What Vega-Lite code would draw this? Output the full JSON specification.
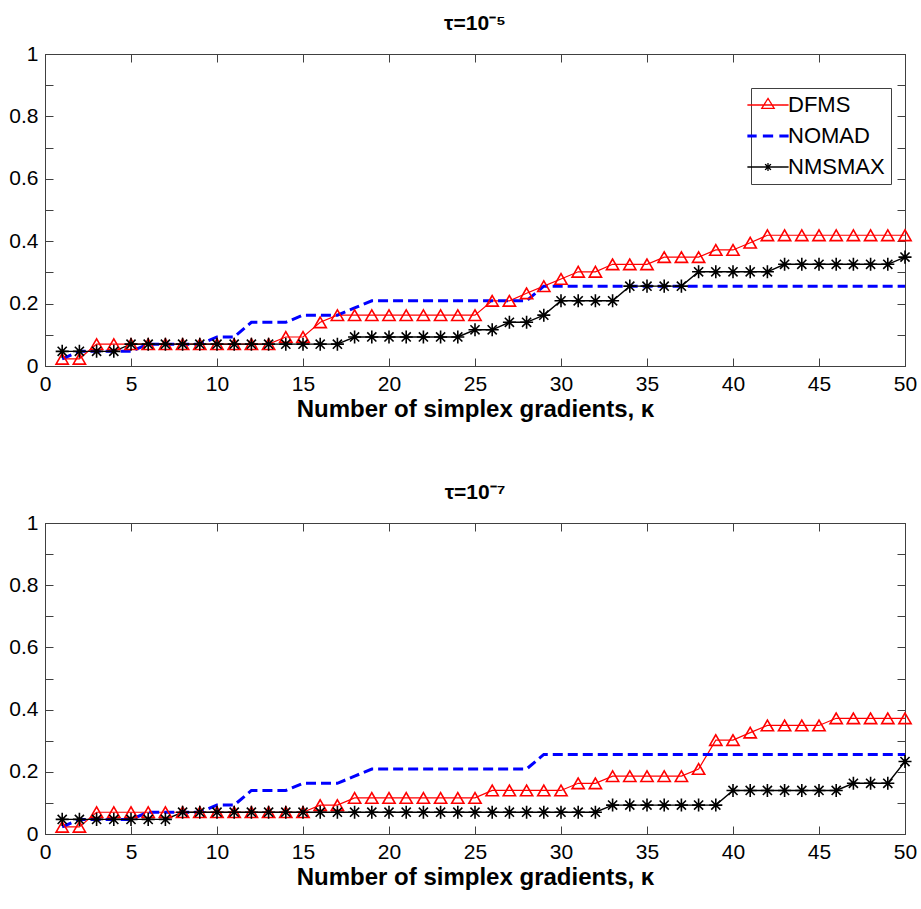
{
  "$schema": "https://vega.github.io/schema/vega-lite/v6.json",
  "background": "white",
  "padding": {"left": 8, "top": 12, "right": 10, "bottom": 5},
  "config": {
    "font": "Liberation Sans",
    "view": {"stroke": "#404040", "strokeWidth": 1},
    "axis": {
      "grid": false,
      "domainColor": "#404040",
      "tickColor": "#404040",
      "tickSize": -8,
      "labelPadding": 15,
      "labelFont": "Liberation Sans",
      "labelFontSize": 21,
      "labelColor": "#000000",
      "labelFlush": false,
      "labelOverlap": false,
      "titleFont": "Liberation Sans",
      "titleFontSize": 24,
      "titleFontWeight": "bold",
      "titleColor": "#000000",
      "titlePadding": 3
    },
    "title": {"font": "Liberation Sans", "fontSize": 21, "fontWeight": "bold", "color": "#000000", "offset": 9},
    "legend": {
      "labelFont": "Liberation Sans",
      "labelFontSize": 22,
      "labelColor": "#000000",
      "strokeColor": "#404040",
      "fillColor": "white",
      "padding": 6,
      "rowPadding": 9,
      "symbolSize": 1700,
      "symbolStrokeWidth": 1.3,
      "labelOffset": 9
    }
  },
  "data": {"values": [
    {"p":"a","s":"DFMS","x":1,"y":0.023},{"p":"a","s":"DFMS","x":2,"y":0.023},{"p":"a","s":"DFMS","x":3,"y":0.070},{"p":"a","s":"DFMS","x":4,"y":0.070},{"p":"a","s":"DFMS","x":5,"y":0.070},{"p":"a","s":"DFMS","x":6,"y":0.070},{"p":"a","s":"DFMS","x":7,"y":0.070},{"p":"a","s":"DFMS","x":8,"y":0.070},{"p":"a","s":"DFMS","x":9,"y":0.070},{"p":"a","s":"DFMS","x":10,"y":0.070},
    {"p":"a","s":"DFMS","x":11,"y":0.070},{"p":"a","s":"DFMS","x":12,"y":0.070},{"p":"a","s":"DFMS","x":13,"y":0.070},{"p":"a","s":"DFMS","x":14,"y":0.093},{"p":"a","s":"DFMS","x":15,"y":0.093},{"p":"a","s":"DFMS","x":16,"y":0.140},{"p":"a","s":"DFMS","x":17,"y":0.163},{"p":"a","s":"DFMS","x":18,"y":0.163},{"p":"a","s":"DFMS","x":19,"y":0.163},{"p":"a","s":"DFMS","x":20,"y":0.163},
    {"p":"a","s":"DFMS","x":21,"y":0.163},{"p":"a","s":"DFMS","x":22,"y":0.163},{"p":"a","s":"DFMS","x":23,"y":0.163},{"p":"a","s":"DFMS","x":24,"y":0.163},{"p":"a","s":"DFMS","x":25,"y":0.163},{"p":"a","s":"DFMS","x":26,"y":0.209},{"p":"a","s":"DFMS","x":27,"y":0.209},{"p":"a","s":"DFMS","x":28,"y":0.233},{"p":"a","s":"DFMS","x":29,"y":0.256},{"p":"a","s":"DFMS","x":30,"y":0.279},
    {"p":"a","s":"DFMS","x":31,"y":0.302},{"p":"a","s":"DFMS","x":32,"y":0.302},{"p":"a","s":"DFMS","x":33,"y":0.326},{"p":"a","s":"DFMS","x":34,"y":0.326},{"p":"a","s":"DFMS","x":35,"y":0.326},{"p":"a","s":"DFMS","x":36,"y":0.349},{"p":"a","s":"DFMS","x":37,"y":0.349},{"p":"a","s":"DFMS","x":38,"y":0.349},{"p":"a","s":"DFMS","x":39,"y":0.372},{"p":"a","s":"DFMS","x":40,"y":0.372},
    {"p":"a","s":"DFMS","x":41,"y":0.395},{"p":"a","s":"DFMS","x":42,"y":0.419},{"p":"a","s":"DFMS","x":43,"y":0.419},{"p":"a","s":"DFMS","x":44,"y":0.419},{"p":"a","s":"DFMS","x":45,"y":0.419},{"p":"a","s":"DFMS","x":46,"y":0.419},{"p":"a","s":"DFMS","x":47,"y":0.419},{"p":"a","s":"DFMS","x":48,"y":0.419},{"p":"a","s":"DFMS","x":49,"y":0.419},{"p":"a","s":"DFMS","x":50,"y":0.419},

    {"p":"a","s":"NOMAD","x":1,"y":0.023},{"p":"a","s":"NOMAD","x":2,"y":0.047},{"p":"a","s":"NOMAD","x":3,"y":0.047},{"p":"a","s":"NOMAD","x":4,"y":0.047},{"p":"a","s":"NOMAD","x":5,"y":0.047},{"p":"a","s":"NOMAD","x":6,"y":0.070},{"p":"a","s":"NOMAD","x":7,"y":0.070},{"p":"a","s":"NOMAD","x":8,"y":0.070},{"p":"a","s":"NOMAD","x":9,"y":0.070},{"p":"a","s":"NOMAD","x":10,"y":0.093},
    {"p":"a","s":"NOMAD","x":11,"y":0.093},{"p":"a","s":"NOMAD","x":12,"y":0.140},{"p":"a","s":"NOMAD","x":13,"y":0.140},{"p":"a","s":"NOMAD","x":14,"y":0.140},{"p":"a","s":"NOMAD","x":15,"y":0.163},{"p":"a","s":"NOMAD","x":16,"y":0.163},{"p":"a","s":"NOMAD","x":17,"y":0.163},{"p":"a","s":"NOMAD","x":18,"y":0.186},{"p":"a","s":"NOMAD","x":19,"y":0.209},{"p":"a","s":"NOMAD","x":20,"y":0.209},
    {"p":"a","s":"NOMAD","x":21,"y":0.209},{"p":"a","s":"NOMAD","x":22,"y":0.209},{"p":"a","s":"NOMAD","x":23,"y":0.209},{"p":"a","s":"NOMAD","x":24,"y":0.209},{"p":"a","s":"NOMAD","x":25,"y":0.209},{"p":"a","s":"NOMAD","x":26,"y":0.209},{"p":"a","s":"NOMAD","x":27,"y":0.209},{"p":"a","s":"NOMAD","x":28,"y":0.209},{"p":"a","s":"NOMAD","x":29,"y":0.256},{"p":"a","s":"NOMAD","x":30,"y":0.256},
    {"p":"a","s":"NOMAD","x":31,"y":0.256},{"p":"a","s":"NOMAD","x":32,"y":0.256},{"p":"a","s":"NOMAD","x":33,"y":0.256},{"p":"a","s":"NOMAD","x":34,"y":0.256},{"p":"a","s":"NOMAD","x":35,"y":0.256},{"p":"a","s":"NOMAD","x":36,"y":0.256},{"p":"a","s":"NOMAD","x":37,"y":0.256},{"p":"a","s":"NOMAD","x":38,"y":0.256},{"p":"a","s":"NOMAD","x":39,"y":0.256},{"p":"a","s":"NOMAD","x":40,"y":0.256},
    {"p":"a","s":"NOMAD","x":41,"y":0.256},{"p":"a","s":"NOMAD","x":42,"y":0.256},{"p":"a","s":"NOMAD","x":43,"y":0.256},{"p":"a","s":"NOMAD","x":44,"y":0.256},{"p":"a","s":"NOMAD","x":45,"y":0.256},{"p":"a","s":"NOMAD","x":46,"y":0.256},{"p":"a","s":"NOMAD","x":47,"y":0.256},{"p":"a","s":"NOMAD","x":48,"y":0.256},{"p":"a","s":"NOMAD","x":49,"y":0.256},{"p":"a","s":"NOMAD","x":50,"y":0.256},

    {"p":"a","s":"NMSMAX","x":1,"y":0.047},{"p":"a","s":"NMSMAX","x":2,"y":0.047},{"p":"a","s":"NMSMAX","x":3,"y":0.047},{"p":"a","s":"NMSMAX","x":4,"y":0.047},{"p":"a","s":"NMSMAX","x":5,"y":0.070},{"p":"a","s":"NMSMAX","x":6,"y":0.070},{"p":"a","s":"NMSMAX","x":7,"y":0.070},{"p":"a","s":"NMSMAX","x":8,"y":0.070},{"p":"a","s":"NMSMAX","x":9,"y":0.070},{"p":"a","s":"NMSMAX","x":10,"y":0.070},
    {"p":"a","s":"NMSMAX","x":11,"y":0.070},{"p":"a","s":"NMSMAX","x":12,"y":0.070},{"p":"a","s":"NMSMAX","x":13,"y":0.070},{"p":"a","s":"NMSMAX","x":14,"y":0.070},{"p":"a","s":"NMSMAX","x":15,"y":0.070},{"p":"a","s":"NMSMAX","x":16,"y":0.070},{"p":"a","s":"NMSMAX","x":17,"y":0.070},{"p":"a","s":"NMSMAX","x":18,"y":0.093},{"p":"a","s":"NMSMAX","x":19,"y":0.093},{"p":"a","s":"NMSMAX","x":20,"y":0.093},
    {"p":"a","s":"NMSMAX","x":21,"y":0.093},{"p":"a","s":"NMSMAX","x":22,"y":0.093},{"p":"a","s":"NMSMAX","x":23,"y":0.093},{"p":"a","s":"NMSMAX","x":24,"y":0.093},{"p":"a","s":"NMSMAX","x":25,"y":0.116},{"p":"a","s":"NMSMAX","x":26,"y":0.116},{"p":"a","s":"NMSMAX","x":27,"y":0.140},{"p":"a","s":"NMSMAX","x":28,"y":0.140},{"p":"a","s":"NMSMAX","x":29,"y":0.163},{"p":"a","s":"NMSMAX","x":30,"y":0.209},
    {"p":"a","s":"NMSMAX","x":31,"y":0.209},{"p":"a","s":"NMSMAX","x":32,"y":0.209},{"p":"a","s":"NMSMAX","x":33,"y":0.209},{"p":"a","s":"NMSMAX","x":34,"y":0.256},{"p":"a","s":"NMSMAX","x":35,"y":0.256},{"p":"a","s":"NMSMAX","x":36,"y":0.256},{"p":"a","s":"NMSMAX","x":37,"y":0.256},{"p":"a","s":"NMSMAX","x":38,"y":0.302},{"p":"a","s":"NMSMAX","x":39,"y":0.302},{"p":"a","s":"NMSMAX","x":40,"y":0.302},
    {"p":"a","s":"NMSMAX","x":41,"y":0.302},{"p":"a","s":"NMSMAX","x":42,"y":0.302},{"p":"a","s":"NMSMAX","x":43,"y":0.326},{"p":"a","s":"NMSMAX","x":44,"y":0.326},{"p":"a","s":"NMSMAX","x":45,"y":0.326},{"p":"a","s":"NMSMAX","x":46,"y":0.326},{"p":"a","s":"NMSMAX","x":47,"y":0.326},{"p":"a","s":"NMSMAX","x":48,"y":0.326},{"p":"a","s":"NMSMAX","x":49,"y":0.326},{"p":"a","s":"NMSMAX","x":50,"y":0.349},

    {"p":"b","s":"DFMS","x":1,"y":0.023},{"p":"b","s":"DFMS","x":2,"y":0.023},{"p":"b","s":"DFMS","x":3,"y":0.070},{"p":"b","s":"DFMS","x":4,"y":0.070},{"p":"b","s":"DFMS","x":5,"y":0.070},{"p":"b","s":"DFMS","x":6,"y":0.070},{"p":"b","s":"DFMS","x":7,"y":0.070},{"p":"b","s":"DFMS","x":8,"y":0.070},{"p":"b","s":"DFMS","x":9,"y":0.070},{"p":"b","s":"DFMS","x":10,"y":0.070},
    {"p":"b","s":"DFMS","x":11,"y":0.070},{"p":"b","s":"DFMS","x":12,"y":0.070},{"p":"b","s":"DFMS","x":13,"y":0.070},{"p":"b","s":"DFMS","x":14,"y":0.070},{"p":"b","s":"DFMS","x":15,"y":0.070},{"p":"b","s":"DFMS","x":16,"y":0.093},{"p":"b","s":"DFMS","x":17,"y":0.093},{"p":"b","s":"DFMS","x":18,"y":0.116},{"p":"b","s":"DFMS","x":19,"y":0.116},{"p":"b","s":"DFMS","x":20,"y":0.116},
    {"p":"b","s":"DFMS","x":21,"y":0.116},{"p":"b","s":"DFMS","x":22,"y":0.116},{"p":"b","s":"DFMS","x":23,"y":0.116},{"p":"b","s":"DFMS","x":24,"y":0.116},{"p":"b","s":"DFMS","x":25,"y":0.116},{"p":"b","s":"DFMS","x":26,"y":0.140},{"p":"b","s":"DFMS","x":27,"y":0.140},{"p":"b","s":"DFMS","x":28,"y":0.140},{"p":"b","s":"DFMS","x":29,"y":0.140},{"p":"b","s":"DFMS","x":30,"y":0.140},
    {"p":"b","s":"DFMS","x":31,"y":0.163},{"p":"b","s":"DFMS","x":32,"y":0.163},{"p":"b","s":"DFMS","x":33,"y":0.186},{"p":"b","s":"DFMS","x":34,"y":0.186},{"p":"b","s":"DFMS","x":35,"y":0.186},{"p":"b","s":"DFMS","x":36,"y":0.186},{"p":"b","s":"DFMS","x":37,"y":0.186},{"p":"b","s":"DFMS","x":38,"y":0.209},{"p":"b","s":"DFMS","x":39,"y":0.302},{"p":"b","s":"DFMS","x":40,"y":0.302},
    {"p":"b","s":"DFMS","x":41,"y":0.326},{"p":"b","s":"DFMS","x":42,"y":0.349},{"p":"b","s":"DFMS","x":43,"y":0.349},{"p":"b","s":"DFMS","x":44,"y":0.349},{"p":"b","s":"DFMS","x":45,"y":0.349},{"p":"b","s":"DFMS","x":46,"y":0.372},{"p":"b","s":"DFMS","x":47,"y":0.372},{"p":"b","s":"DFMS","x":48,"y":0.372},{"p":"b","s":"DFMS","x":49,"y":0.372},{"p":"b","s":"DFMS","x":50,"y":0.372},

    {"p":"b","s":"NOMAD","x":1,"y":0.023},{"p":"b","s":"NOMAD","x":2,"y":0.047},{"p":"b","s":"NOMAD","x":3,"y":0.047},{"p":"b","s":"NOMAD","x":4,"y":0.047},{"p":"b","s":"NOMAD","x":5,"y":0.047},{"p":"b","s":"NOMAD","x":6,"y":0.070},{"p":"b","s":"NOMAD","x":7,"y":0.070},{"p":"b","s":"NOMAD","x":8,"y":0.070},{"p":"b","s":"NOMAD","x":9,"y":0.070},{"p":"b","s":"NOMAD","x":10,"y":0.093},
    {"p":"b","s":"NOMAD","x":11,"y":0.093},{"p":"b","s":"NOMAD","x":12,"y":0.140},{"p":"b","s":"NOMAD","x":13,"y":0.140},{"p":"b","s":"NOMAD","x":14,"y":0.140},{"p":"b","s":"NOMAD","x":15,"y":0.163},{"p":"b","s":"NOMAD","x":16,"y":0.163},{"p":"b","s":"NOMAD","x":17,"y":0.163},{"p":"b","s":"NOMAD","x":18,"y":0.186},{"p":"b","s":"NOMAD","x":19,"y":0.209},{"p":"b","s":"NOMAD","x":20,"y":0.209},
    {"p":"b","s":"NOMAD","x":21,"y":0.209},{"p":"b","s":"NOMAD","x":22,"y":0.209},{"p":"b","s":"NOMAD","x":23,"y":0.209},{"p":"b","s":"NOMAD","x":24,"y":0.209},{"p":"b","s":"NOMAD","x":25,"y":0.209},{"p":"b","s":"NOMAD","x":26,"y":0.209},{"p":"b","s":"NOMAD","x":27,"y":0.209},{"p":"b","s":"NOMAD","x":28,"y":0.209},{"p":"b","s":"NOMAD","x":29,"y":0.256},{"p":"b","s":"NOMAD","x":30,"y":0.256},
    {"p":"b","s":"NOMAD","x":31,"y":0.256},{"p":"b","s":"NOMAD","x":32,"y":0.256},{"p":"b","s":"NOMAD","x":33,"y":0.256},{"p":"b","s":"NOMAD","x":34,"y":0.256},{"p":"b","s":"NOMAD","x":35,"y":0.256},{"p":"b","s":"NOMAD","x":36,"y":0.256},{"p":"b","s":"NOMAD","x":37,"y":0.256},{"p":"b","s":"NOMAD","x":38,"y":0.256},{"p":"b","s":"NOMAD","x":39,"y":0.256},{"p":"b","s":"NOMAD","x":40,"y":0.256},
    {"p":"b","s":"NOMAD","x":41,"y":0.256},{"p":"b","s":"NOMAD","x":42,"y":0.256},{"p":"b","s":"NOMAD","x":43,"y":0.256},{"p":"b","s":"NOMAD","x":44,"y":0.256},{"p":"b","s":"NOMAD","x":45,"y":0.256},{"p":"b","s":"NOMAD","x":46,"y":0.256},{"p":"b","s":"NOMAD","x":47,"y":0.256},{"p":"b","s":"NOMAD","x":48,"y":0.256},{"p":"b","s":"NOMAD","x":49,"y":0.256},{"p":"b","s":"NOMAD","x":50,"y":0.256},

    {"p":"b","s":"NMSMAX","x":1,"y":0.047},{"p":"b","s":"NMSMAX","x":2,"y":0.047},{"p":"b","s":"NMSMAX","x":3,"y":0.047},{"p":"b","s":"NMSMAX","x":4,"y":0.047},{"p":"b","s":"NMSMAX","x":5,"y":0.047},{"p":"b","s":"NMSMAX","x":6,"y":0.047},{"p":"b","s":"NMSMAX","x":7,"y":0.047},{"p":"b","s":"NMSMAX","x":8,"y":0.070},{"p":"b","s":"NMSMAX","x":9,"y":0.070},{"p":"b","s":"NMSMAX","x":10,"y":0.070},
    {"p":"b","s":"NMSMAX","x":11,"y":0.070},{"p":"b","s":"NMSMAX","x":12,"y":0.070},{"p":"b","s":"NMSMAX","x":13,"y":0.070},{"p":"b","s":"NMSMAX","x":14,"y":0.070},{"p":"b","s":"NMSMAX","x":15,"y":0.070},{"p":"b","s":"NMSMAX","x":16,"y":0.070},{"p":"b","s":"NMSMAX","x":17,"y":0.070},{"p":"b","s":"NMSMAX","x":18,"y":0.070},{"p":"b","s":"NMSMAX","x":19,"y":0.070},{"p":"b","s":"NMSMAX","x":20,"y":0.070},
    {"p":"b","s":"NMSMAX","x":21,"y":0.070},{"p":"b","s":"NMSMAX","x":22,"y":0.070},{"p":"b","s":"NMSMAX","x":23,"y":0.070},{"p":"b","s":"NMSMAX","x":24,"y":0.070},{"p":"b","s":"NMSMAX","x":25,"y":0.070},{"p":"b","s":"NMSMAX","x":26,"y":0.070},{"p":"b","s":"NMSMAX","x":27,"y":0.070},{"p":"b","s":"NMSMAX","x":28,"y":0.070},{"p":"b","s":"NMSMAX","x":29,"y":0.070},{"p":"b","s":"NMSMAX","x":30,"y":0.070},
    {"p":"b","s":"NMSMAX","x":31,"y":0.070},{"p":"b","s":"NMSMAX","x":32,"y":0.070},{"p":"b","s":"NMSMAX","x":33,"y":0.093},{"p":"b","s":"NMSMAX","x":34,"y":0.093},{"p":"b","s":"NMSMAX","x":35,"y":0.093},{"p":"b","s":"NMSMAX","x":36,"y":0.093},{"p":"b","s":"NMSMAX","x":37,"y":0.093},{"p":"b","s":"NMSMAX","x":38,"y":0.093},{"p":"b","s":"NMSMAX","x":39,"y":0.093},{"p":"b","s":"NMSMAX","x":40,"y":0.140},
    {"p":"b","s":"NMSMAX","x":41,"y":0.140},{"p":"b","s":"NMSMAX","x":42,"y":0.140},{"p":"b","s":"NMSMAX","x":43,"y":0.140},{"p":"b","s":"NMSMAX","x":44,"y":0.140},{"p":"b","s":"NMSMAX","x":45,"y":0.140},{"p":"b","s":"NMSMAX","x":46,"y":0.140},{"p":"b","s":"NMSMAX","x":47,"y":0.163},{"p":"b","s":"NMSMAX","x":48,"y":0.163},{"p":"b","s":"NMSMAX","x":49,"y":0.163},{"p":"b","s":"NMSMAX","x":50,"y":0.233}
  ]},
  "spacing": 59,
  "resolve": {"scale": {"color": "independent"}, "legend": {"color": "independent"}},
  "vconcat": [
    {
      "title": {"text": "τ=10⁻⁵"},
      "width": 860,
      "height": 312,
      "transform": [{"filter": "datum.p === 'a'"}],
      "resolve": {"axis": {"x": "independent", "y": "independent"}},
      "layer": [
        {
          "transform": [{"filter": "datum.s === 'DFMS'"}],
          "mark": {"type": "line", "strokeWidth": 1.2},
          "encoding": {
            "x": {"field": "x", "type": "quantitative", "scale": {"domain": [0, 50], "nice": false, "zero": false},
                  "axis": {"values": [0,5,10,15,20,25,30,35,40,45,50], "title": "Number of simplex gradients, κ"}},
            "y": {"field": "y", "type": "quantitative", "scale": {"domain": [0, 1], "nice": false},
                  "axis": {"values": [0,0.1,0.2,0.3,0.4,0.5,0.6,0.7,0.8,0.9,1], "title": null,
                           "labelExpr": "round(datum.value*10)%2 == 0 ? format(datum.value, '.1~f') : ''"}},
            "color": {"field": "s", "type": "nominal",
                      "scale": {"domain": ["DFMS","NOMAD","NMSMAX"], "range": ["#ff0000","#0000ff","#000000"]},
                      "legend": {"title": null, "orient": "none", "legendX": 706, "legendY": 34, "values": ["DFMS","NOMAD","NMSMAX"],
                                 "encode": {"symbols": {"update": {
                                   "shape": {"signal": "datum.value === 'DFMS' ? 'M-1,0H1M-0.3,0.16L0,-0.32L0.3,0.16Z' : (datum.value === 'NOMAD' ? 'M-1,0H-0.55M-0.25,0H0.25M0.55,0H1' : 'M-1,0H1M0,-0.19V0.19M-0.19,0H0.19M-0.14,-0.14L0.14,0.14M-0.14,0.14L0.14,-0.14')"},
                                   "strokeWidth": {"signal": "datum.value === 'NOMAD' ? 3 : 1.3"},
                                   "fill": {"value": "transparent"},
                                   "strokeDash": {"value": [1, 0]}
                                 }}}}}
          }
        },
        {
          "transform": [{"filter": "datum.s === 'NOMAD'"}],
          "mark": {"type": "line", "strokeWidth": 3, "strokeDash": [10, 5]},
          "encoding": {
            "x": {"field": "x", "type": "quantitative", "axis": null},
            "y": {"field": "y", "type": "quantitative", "axis": null},
            "color": {"field": "s", "type": "nominal"}
          }
        },
        {
          "transform": [{"filter": "datum.s === 'NMSMAX'"}],
          "mark": {"type": "line", "strokeWidth": 1.4},
          "encoding": {
            "x": {"field": "x", "type": "quantitative", "axis": null},
            "y": {"field": "y", "type": "quantitative", "axis": null},
            "color": {"field": "s", "type": "nominal"}
          }
        },
        {
          "transform": [{"filter": "datum.s !== 'NOMAD'"}],
          "mark": {"type": "point", "filled": false, "strokeWidth": 1.6, "opacity": 1},
          "encoding": {
            "x": {"field": "x", "type": "quantitative", "axis": {"orient": "top", "labels": false, "title": null, "values": [0,5,10,15,20,25,30,35,40,45,50]}},
            "y": {"field": "y", "type": "quantitative", "axis": {"orient": "right", "labels": false, "title": null, "values": [0,0.1,0.2,0.3,0.4,0.5,0.6,0.7,0.8,0.9,1]}},
            "shape": {"field": "s", "type": "nominal", "scale": {"domain": ["DFMS","NMSMAX"], "range": ["triangle-up", "M0,-1V1M-1,0H1M-0.7,-0.7L0.7,0.7M-0.7,0.7L0.7,-0.7"]}, "legend": null},
            "stroke": {"field": "s", "type": "nominal", "scale": {"domain": ["DFMS","NMSMAX"], "range": ["#ff0000","#000000"]}, "legend": null},
            "size": {"field": "s", "type": "nominal", "scale": {"domain": ["DFMS","NMSMAX"], "range": [150, 170]}, "legend": null}
          }
        }
      ]
    },
    {
      "title": {"text": "τ=10⁻⁷"},
      "width": 860,
      "height": 311,
      "transform": [{"filter": "datum.p === 'b'"}],
      "resolve": {"axis": {"x": "independent", "y": "independent"}},
      "layer": [
        {
          "transform": [{"filter": "datum.s === 'DFMS'"}],
          "mark": {"type": "line", "strokeWidth": 1.2},
          "encoding": {
            "x": {"field": "x", "type": "quantitative", "scale": {"domain": [0, 50], "nice": false, "zero": false},
                  "axis": {"values": [0,5,10,15,20,25,30,35,40,45,50], "title": "Number of simplex gradients, κ"}},
            "y": {"field": "y", "type": "quantitative", "scale": {"domain": [0, 1], "nice": false},
                  "axis": {"values": [0,0.1,0.2,0.3,0.4,0.5,0.6,0.7,0.8,0.9,1], "title": null,
                           "labelExpr": "round(datum.value*10)%2 == 0 ? format(datum.value, '.1~f') : ''"}},
            "color": {"field": "s", "type": "nominal",
                      "scale": {"domain": ["DFMS","NOMAD","NMSMAX"], "range": ["#ff0000","#0000ff","#000000"]},
                      "legend": null}
          }
        },
        {
          "transform": [{"filter": "datum.s === 'NOMAD'"}],
          "mark": {"type": "line", "strokeWidth": 3, "strokeDash": [10, 5]},
          "encoding": {
            "x": {"field": "x", "type": "quantitative", "axis": null},
            "y": {"field": "y", "type": "quantitative", "axis": null},
            "color": {"field": "s", "type": "nominal", "legend": null}
          }
        },
        {
          "transform": [{"filter": "datum.s === 'NMSMAX'"}],
          "mark": {"type": "line", "strokeWidth": 1.4},
          "encoding": {
            "x": {"field": "x", "type": "quantitative", "axis": null},
            "y": {"field": "y", "type": "quantitative", "axis": null},
            "color": {"field": "s", "type": "nominal", "legend": null}
          }
        },
        {
          "transform": [{"filter": "datum.s !== 'NOMAD'"}],
          "mark": {"type": "point", "filled": false, "strokeWidth": 1.6, "opacity": 1},
          "encoding": {
            "x": {"field": "x", "type": "quantitative", "axis": {"orient": "top", "labels": false, "title": null, "values": [0,5,10,15,20,25,30,35,40,45,50]}},
            "y": {"field": "y", "type": "quantitative", "axis": {"orient": "right", "labels": false, "title": null, "values": [0,0.1,0.2,0.3,0.4,0.5,0.6,0.7,0.8,0.9,1]}},
            "shape": {"field": "s", "type": "nominal", "scale": {"domain": ["DFMS","NMSMAX"], "range": ["triangle-up", "M0,-1V1M-1,0H1M-0.7,-0.7L0.7,0.7M-0.7,0.7L0.7,-0.7"]}, "legend": null},
            "stroke": {"field": "s", "type": "nominal", "scale": {"domain": ["DFMS","NMSMAX"], "range": ["#ff0000","#000000"]}, "legend": null},
            "size": {"field": "s", "type": "nominal", "scale": {"domain": ["DFMS","NMSMAX"], "range": [150, 170]}, "legend": null}
          }
        }
      ]
    }
  ]
}
